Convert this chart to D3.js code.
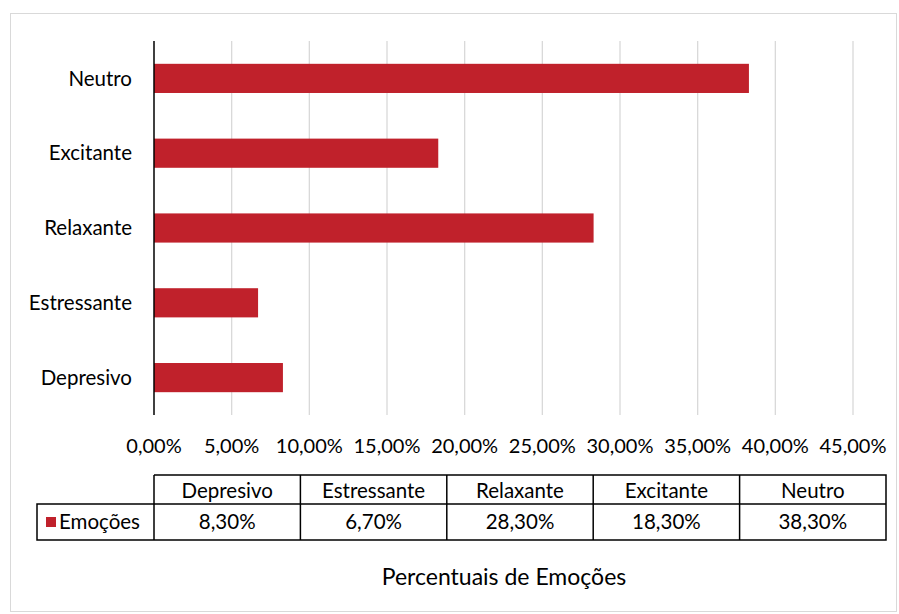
<!DOCTYPE html>
<html><head><meta charset="utf-8">
<script src="https://cdn.jsdelivr.net/npm/d3@7"></script>
<style>body{margin:0;background:#fff}svg{display:block}text{font-family:Lato,"Open Sans",sans-serif;fill:#000}</style>
</head><body>
<script>
const categories = ["Depresivo","Estressante","Relaxante","Excitante","Neutro"];
const values = [8.3, 6.7, 28.3, 18.3, 38.3];
const tableLabels = ["8,30%","6,70%","28,30%","18,30%","38,30%"];
const xTicks = [0,5,10,15,20,25,30,35,40,45];
const seriesName = "Emoções";
const axisTitle = "Percentuais de Emoções";
const barColor = "#C0212B";

(function(){
const W = 899, H = 614;
const svg = d3.select("body").append("svg").attr("width", W).attr("height", H);
svg.append("rect").attr("x",10.5).attr("y",13.5).attr("width",W-13).attr("height",H-16)
  .attr("fill","#fff").attr("stroke","#d9d9d9").attr("stroke-width",1);

const x = d3.scaleLinear().domain([0,45]).range([154,853]);
const y = d3.scaleBand().domain(categories.slice().reverse()).range([41,415]).paddingInner(0.61).paddingOuter(0.305);

svg.append("g").selectAll("line").data(xTicks.slice(1)).join("line")
  .attr("x1",d=>x(d)).attr("x2",d=>x(d)).attr("y1",41).attr("y2",415)
  .attr("stroke","#d9d9d9").attr("stroke-width",1.3);

svg.append("g").selectAll("rect").data(categories).join("rect")
  .attr("x",x(0)).attr("y",d=>y(d)).attr("height",y.bandwidth())
  .attr("width",(d,i)=>x(values[i])-x(0)).attr("fill",barColor);

svg.append("line").attr("x1",x(0)).attr("x2",x(0)).attr("y1",41).attr("y2",415).attr("stroke","#000").attr("stroke-width",1.5);

svg.append("g").selectAll("text").data(categories).join("text")
  .attr("x",132).attr("y",d=>y(d)+y.bandwidth()/2).attr("dy","0.35em")
  .attr("text-anchor","end").attr("font-size",20.5).text(d=>d);

const fmt = d => d3.format(".2f")(d).replace(".",",")+"%";
svg.append("g").selectAll("text").data(xTicks).join("text")
  .attr("x",d=>x(d)).attr("y",446).attr("dy","0.35em").attr("text-anchor","middle")
  .attr("font-size",20).text(fmt);

const tx = d3.scaleBand().domain(categories).range([154,886]);
const t = svg.append("g");
const tTop = 475, tMid = 504, tBot = 540, legLeft = 37;
t.append("path").attr("fill","none").attr("stroke","#000").attr("stroke-width",1.5)
  .attr("d",`M154,${tTop}H886V${tBot}H${legLeft}V${tMid}H886M154,${tTop}V${tBot}`);
categories.forEach((c,i)=>{
  const xx = tx(c)+tx.bandwidth();
  if(i<categories.length-1) t.append("line").attr("x1",xx).attr("x2",xx).attr("y1",tTop).attr("y2",tBot).attr("stroke","#000").attr("stroke-width",1.5);
});
t.selectAll("text.h").data(categories).join("text").attr("class","h")
  .attr("x",d=>tx(d)+tx.bandwidth()/2).attr("y",(tTop+tMid)/2+1).attr("dy","0.35em")
  .attr("text-anchor","middle").attr("font-size",20.5).text(d=>d);
t.selectAll("text.v").data(categories).join("text").attr("class","v")
  .attr("x",d=>tx(d)+tx.bandwidth()/2).attr("y",(tMid+tBot)/2).attr("dy","0.35em")
  .attr("text-anchor","middle").attr("font-size",20.5).text((d,i)=>tableLabels[i]);
t.append("rect").attr("x",46).attr("y",517).attr("width",10).attr("height",10).attr("fill",barColor);
t.append("text").attr("x",59).attr("y",(tMid+tBot)/2).attr("dy","0.35em").attr("font-size",20.5).text(seriesName);

svg.append("text").attr("x",504).attr("y",577).attr("dy","0.35em").attr("text-anchor","middle")
  .attr("font-size",23).text(axisTitle);
})();
</script>
</body></html>
